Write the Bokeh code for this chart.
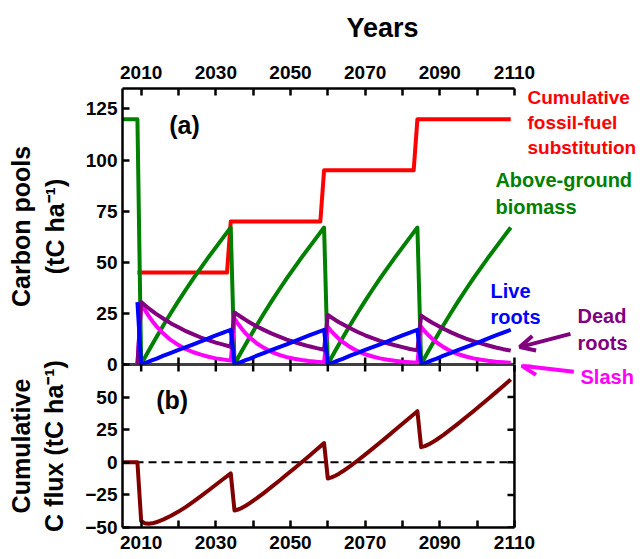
from bokeh.plotting import figure
from bokeh.models import Range1d, FixedTicker, Label, Arrow, OpenHead
from bokeh.layouts import column
from bokeh.embed import file_html
from bokeh.resources import INLINE

FONT = "Liberation Sans"

# ---------------- data ----------------
pre_years = [2005, 2009]
pre_biomass = [120, 120]
pre_flux = [0, 0]
start_year = 2009
start_live_roots = 30.5
start_dead_roots = 0.0
start_slash = 0.0

harvest_years = [2010, 2035, 2060, 2085]
ages = [0, 1, 2, 3, 4, 6, 8, 10, 12, 14, 16, 18, 20, 22, 24]

agb_growth = [0, 3.4, 6.7, 9.9, 13.1, 19.3, 25.3, 31.1, 36.7, 42.1, 47.3, 52.4, 57.3, 62.2, 67.0]
live_roots_growth = [0, 0.7, 1.4, 2.1, 2.8, 4.3, 5.7, 7.1, 8.5, 9.9, 11.3, 12.8, 14.2, 15.6, 17.0]

dead_roots_c1 = [30.5, 29.0, 27.5, 26.1, 24.8, 22.4, 20.1, 18.2, 16.3, 14.7, 13.2, 11.9, 10.7, 9.7, 8.7]
dead_roots_c2 = [25.5, 24.2, 23.0, 21.8, 20.7, 18.6, 16.8, 15.1, 13.6, 12.2, 11.0, 9.9, 8.9, 8.0, 7.2]
dead_roots_c3 = [24.2, 23.0, 21.8, 20.7, 19.7, 17.7, 15.9, 14.3, 12.9, 11.6, 10.4, 9.4, 8.5, 7.6, 6.9]
dead_roots_c4 = [23.9, 22.7, 21.5, 20.4, 19.4, 17.5, 15.7, 14.1, 12.7, 11.4, 10.3, 9.3, 8.3, 7.5, 6.8]

slash_c1 = [30.0, 26.7, 23.8, 21.2, 18.9, 15.0, 11.9, 9.5, 7.5, 6.0, 4.8, 3.8, 3.0, 2.4, 1.9]
slash_c2 = [22.5, 19.8, 17.4, 15.2, 13.4, 10.3, 8.0, 6.1, 4.7, 3.6, 2.8, 2.2, 1.7, 1.3, 1.0]
slash_c3 = [18.5, 16.2, 14.3, 12.5, 11.0, 8.5, 6.5, 5.0, 3.9, 3.0, 2.3, 1.8, 1.4, 1.1, 0.8]
slash_c4 = [18.5, 16.2, 14.3, 12.5, 11.0, 8.5, 6.5, 5.0, 3.9, 3.0, 2.3, 1.8, 1.4, 1.1, 0.8]

flux_c1 = [-45.0, -46.8, -47.2, -46.8, -46.0, -43.8, -41.0, -37.8, -34.2, -30.2, -26.0, -21.6, -17.2, -12.8, -8.5]
flux_c2 = [-37.0, -36.2, -34.9, -33.3, -31.5, -27.5, -23.2, -18.7, -14.1, -9.4, -4.7, 0.1, 4.9, 9.8, 14.7]
flux_c3 = [-12.4, -11.6, -10.3, -8.7, -6.9, -2.9, 1.4, 5.9, 10.5, 15.2, 19.9, 24.7, 29.5, 34.4, 39.2]
flux_c4 = [11.6, 12.4, 13.7, 15.3, 17.1, 21.1, 25.4, 29.9, 34.5, 39.2, 44.0, 48.8, 53.6, 58.5, 63.5]

fossil_years = [2009, 2033, 2034, 2058, 2059, 2083, 2084, 2109]
fossil_values = [45, 45, 70, 70, 95, 95, 120, 120]

x_tick_labels = [2010, 2030, 2050, 2070, 2090, 2110]
x_minor_ticks = [2020, 2040, 2060, 2080, 2100]
pool_ticks = [0, 25, 50, 75, 100, 125]
flux_ticks = [-50, -25, 0, 25, 50]

# axis extents
X_START, X_AXIS_END, X_FRAME_END = 2005, 2110, 2144.3
POOL_MAX = 135
FLUX_MIN, FLUX_MAX = -50, 75

# layout (pixels)
FRAME_W = 520
FRAME_A_H = 276
FRAME_B_H = 163
LEFT = 122
TOP = 88
OVERLAP = 12
BOTTOM = 31
TICK = 7
PX_PER_YEAR = FRAME_W / (X_FRAME_END - X_START)
PX_PER_POOL = FRAME_A_H / POOL_MAX
PX_PER_FLUX = FRAME_B_H / (FLUX_MAX - FLUX_MIN)


def build(cycles, x0=None, y0=None):
    xs, ys = ([] if x0 is None else list(x0)), ([] if y0 is None else list(y0))
    for h, vals in zip(harvest_years, cycles):
        xs += [h + a for a in ages]
        ys += list(vals)
    return xs, ys


agb_x, agb_y = build([agb_growth] * 4, pre_years, pre_biomass)
lr_x, lr_y = build([live_roots_growth] * 4, [start_year], [start_live_roots])
dr_x, dr_y = build([dead_roots_c1, dead_roots_c2, dead_roots_c3, dead_roots_c4], [start_year], [start_dead_roots])
sl_x, sl_y = build([slash_c1, slash_c2, slash_c3, slash_c4], [start_year], [start_slash])
fx_x, fx_y = build([flux_c1, flux_c2, flux_c3, flux_c4], pre_years, pre_flux)

RED = "#ff0000"
GREEN = "#008000"
BLUE = "#0000ff"
PURPLE = "#800080"
MAGENTA = "#ff00ff"
DARKRED = "#800000"
LW = 4
AXIS_W = 2.5


def style_axis(ax, standoff=6):
    ax.axis_line_width = AXIS_W
    ax.axis_line_color = "black"
    ax.major_tick_in = TICK
    ax.major_tick_out = 0
    ax.minor_tick_in = TICK
    ax.minor_tick_out = 0
    ax.major_tick_line_width = AXIS_W
    ax.minor_tick_line_width = AXIS_W
    ax.major_label_text_font = FONT
    ax.major_label_text_font_style = "bold"
    ax.major_label_text_color = "black"
    ax.major_label_text_font_size = "19px"
    ax.major_label_standoff = standoff
    ax.axis_label_text_font = FONT
    ax.axis_label_text_font_style = "bold"
    ax.axis_label_text_color = "black"


def x_ticker():
    return FixedTicker(ticks=x_tick_labels, minor_ticks=x_minor_ticks)


all_year_ticks = sorted(x_tick_labels + x_minor_ticks)
x_range = Range1d(X_START, X_FRAME_END)

# ---------------- panel (a) ----------------
p1 = figure(frame_width=FRAME_W, frame_height=FRAME_A_H, x_range=x_range, y_range=Range1d(0, POOL_MAX),
            x_axis_location="above", y_axis_location="left",
            toolbar_location=None, output_backend="svg",
            min_border_left=LEFT, min_border_right=0, min_border_top=TOP, min_border_bottom=OVERLAP,
            outline_line_color=None, background_fill_color=None, border_fill_color=None)
p1.xgrid.visible = False
p1.ygrid.visible = False

xa = p1.xaxis[0]
xa.ticker = x_ticker()
xa.bounds = (X_START, X_AXIS_END)
style_axis(xa, 10)
xa.axis_label = "Years"
xa.axis_label_text_font_size = "27px"
xa.axis_label_standoff = 20

ya = p1.yaxis[0]
ya.ticker = FixedTicker(ticks=pool_ticks)
style_axis(ya, 5)
ya.axis_label = "Carbon pools\n(tC ha\u207b\u00b9)"
ya.axis_label_text_font_size = "25px"
ya.axis_label_standoff = 14

# shared boundary between the panels: upper half of the rule + upward ticks
p1.segment(x0=[X_START], y0=[0], x1=[X_AXIS_END], y1=[0], line_color="black", line_width=AXIS_W)
p1.segment(x0=all_year_ticks, y0=[0] * len(all_year_ticks),
           x1=all_year_ticks, y1=[TICK / PX_PER_POOL] * len(all_year_ticks),
           line_color="black", line_width=AXIS_W)

p1.line(fossil_years, fossil_values, line_color=RED, line_width=LW, line_join="round")
p1.line(agb_x, agb_y, line_color=GREEN, line_width=LW, line_join="round")
p1.line(sl_x, sl_y, line_color=MAGENTA, line_width=LW, line_join="round")
p1.line(dr_x, dr_y, line_color=PURPLE, line_width=LW, line_join="round")
p1.line(lr_x, lr_y, line_color=BLUE, line_width=LW, line_join="round")


def add_label(p, x, y, text, color, size="20px", align="left"):
    p.add_layout(Label(x=x, y=y, text=text, text_color=color, text_font=FONT,
                       text_font_style="bold", text_font_size=size,
                       text_align=align, text_baseline="middle"))


add_label(p1, 2021.6, 117, "(a)", "black", "25px", "center")
add_label(p1, 2113.5, 118.5, "Cumulative\nfossil-fuel\nsubstitution", RED, "19px")
add_label(p1, 2104.9, 83.7, "Above-ground\nbiomass", GREEN)
add_label(p1, 2103.6, 29.6, "Live\nroots", BLUE)
add_label(p1, 2126.9, 17.1, "Dead\nroots", PURPLE)

p1.add_layout(Arrow(end=OpenHead(line_color=PURPLE, line_width=4, size=15),
                    x_start=2125.0, y_start=15.0, x_end=2111.4, y_end=8.5,
                    line_color=PURPLE, line_width=4))

# ---------------- panel (b) ----------------
p2 = figure(frame_width=FRAME_W, frame_height=FRAME_B_H, x_range=x_range, y_range=Range1d(FLUX_MIN, FLUX_MAX),
            x_axis_location="below", y_axis_location="left",
            toolbar_location=None, output_backend="svg",
            min_border_left=LEFT, min_border_right=0, min_border_top=OVERLAP, min_border_bottom=BOTTOM,
            outline_line_color=None, background_fill_color=None, border_fill_color=None)
p2.margin = (-2 * OVERLAP, 0, 0, 0)
p2.xgrid.visible = False
p2.ygrid.visible = False

xb = p2.xaxis[0]
xb.ticker = x_ticker()
xb.bounds = (X_START, X_AXIS_END)
style_axis(xb, 8)

yb = p2.yaxis[0]
yb.ticker = FixedTicker(ticks=flux_ticks)
style_axis(yb, 5)
yb.axis_label = "Cumulative\nC flux (tC ha\u207b\u00b9)"
yb.axis_label_text_font_size = "25px"
yb.axis_label_standoff = 14

# lower half of the shared rule + downward ticks
p2.segment(x0=[X_START], y0=[FLUX_MAX], x1=[X_AXIS_END], y1=[FLUX_MAX], line_color="black", line_width=AXIS_W)
p2.segment(x0=all_year_ticks, y0=[FLUX_MAX] * len(all_year_ticks),
           x1=all_year_ticks, y1=[FLUX_MAX - TICK / PX_PER_FLUX] * len(all_year_ticks),
           line_color="black", line_width=AXIS_W)

# right-hand spine of panel (b) with inward ticks, ending at the last year tick
tick_years = TICK / PX_PER_YEAR
p2.segment(x0=[X_AXIS_END], y0=[FLUX_MIN], x1=[X_AXIS_END], y1=[FLUX_MAX],
           line_color="black", line_width=AXIS_W)
p2.segment(x0=[X_AXIS_END - tick_years] * len(flux_ticks), y0=flux_ticks,
           x1=[X_AXIS_END] * len(flux_ticks), y1=flux_ticks,
           line_color="black", line_width=AXIS_W)

# dashed zero line
p2.segment(x0=[X_START], y0=[0], x1=[X_AXIS_END], y1=[0],
           line_color="black", line_width=2, line_dash="8 5")
p2.line(fx_x, fx_y, line_color=DARKRED, line_width=LW, line_join="round")

add_label(p2, 2018.3, 47.9, "(b)", "black", "25px", "center")
add_label(p2, 2127.7, 65.4, "Slash", MAGENTA)
p2.add_layout(Arrow(end=OpenHead(line_color=MAGENTA, line_width=4, size=15),
                    x_start=2125.9, y_start=69.5, x_end=2112.0, y_end=74.0,
                    line_color=MAGENTA, line_width=4))

layout = column(p1, p2)
open("out.html", "w").write(file_html(layout, INLINE))
